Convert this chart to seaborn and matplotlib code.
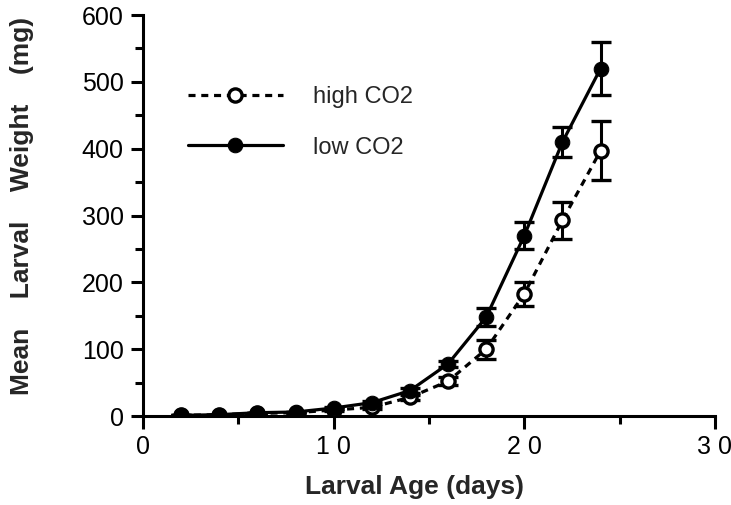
import matplotlib
matplotlib.use("Agg")
import matplotlib.pyplot as plt
import seaborn as sns
import pandas as pd

# ----------------- Data -----------------
age_days = [2, 4, 6, 8, 10, 12, 14, 16, 18, 20, 22, 24]
high_co2 = [1, 2, 4, 5, 9, 13, 28, 52, 100, 183, 293, 397]
high_err = [0, 0, 0, 0, 1, 2, 4, 6, 14, 18, 28, 44]
low_co2 = [1, 2, 5, 6, 12, 20, 38, 78, 148, 270, 410, 520]
low_err = [0, 0, 0, 0, 1, 2, 4, 5, 14, 20, 22, 40]

df = pd.DataFrame({
    "age": age_days * 2,
    "weight": high_co2 + low_co2,
    "group": ["high CO2"] * len(age_days) + ["low CO2"] * len(age_days),
})

sns.set_style("ticks")
plt.rcParams["font.family"] = ["Liberation Sans", "DejaVu Sans"]

fig = plt.figure(figsize=(7.31, 5.05), dpi=100)
ax = fig.add_axes([0.1956, 0.1762, 0.7825, 0.794])

# error bars first so markers sit on top
ax.errorbar(age_days, low_co2, yerr=low_err, fmt="none", ecolor="black",
            elinewidth=2.2, capsize=7, capthick=2.4, zorder=2)
ax.errorbar(age_days, high_co2, yerr=high_err, fmt="none", ecolor="black",
            elinewidth=2.2, capsize=7, capthick=2.4, zorder=2)

sns.lineplot(data=df[df.group == "high CO2"], x="age", y="weight", ax=ax,
             color="black", linewidth=2.3, linestyle=(0, (2.2, 1.8)),
             marker="o", markersize=9.5, markerfacecolor="white",
             markeredgecolor="black", markeredgewidth=2.4, zorder=3,
             label="high CO2")
sns.lineplot(data=df[df.group == "low CO2"], x="age", y="weight", ax=ax,
             color="black", linewidth=2.3, marker="o", markersize=10.5,
             markerfacecolor="black", markeredgecolor="black", zorder=4,
             label="low CO2")

ax.set_xlim(0, 30)
ax.set_ylim(0, 600)
ax.set_xticks([0, 10, 20, 30])
ax.set_xticks([5, 15, 25], minor=True)
ax.set_yticks([0, 100, 200, 300, 400, 500, 600])
ax.set_yticks([50, 150, 250, 350, 450, 550], minor=True)
ax.set_xticklabels(["0", "1 0", "2 0", "3 0"])
ax.tick_params(axis="both", which="major", length=9, width=2.2,
               labelsize=18, color="black", labelcolor="black")
ax.tick_params(axis="both", which="minor", length=6, width=2.2, color="black")
ax.tick_params(axis="x", pad=5)
ax.tick_params(axis="y", pad=5)

sns.despine(ax=ax)
for s in ["left", "bottom"]:
    ax.spines[s].set_linewidth(2.2)
    ax.spines[s].set_color("black")

ax.set_xlabel("Larval Age (days)", fontsize=19, fontweight="bold")
ax.set_ylabel("Mean    Larval    Weight    (mg)", fontsize=19, fontweight="bold")
ax.xaxis.set_label_coords(0.474, -0.148)
ax.yaxis.set_label_coords(-0.19, 0.525)

leg = ax.legend(loc="upper left", bbox_to_anchor=(0.079, 0.822), frameon=False,
                fontsize=17, handlelength=4.0, handletextpad=1.3,
                labelspacing=1.2, borderpad=0, borderaxespad=0)

fig.savefig("out.png", dpi=100)
